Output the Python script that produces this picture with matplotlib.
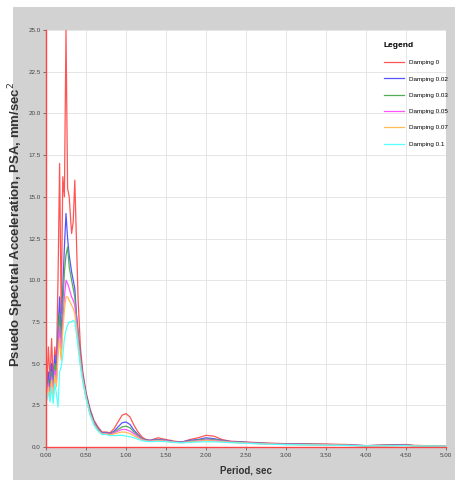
import matplotlib
matplotlib.use("Agg")
import matplotlib.pyplot as plt
from matplotlib.patches import Rectangle

plt.rcParams['font.family'] = ['Liberation Sans', 'DejaVu Sans']

# period axis shared by all curves (sec)
periods = [0.01, 0.03, 0.05, 0.07, 0.09, 0.11, 0.13, 0.15, 0.17, 0.19,
           0.21, 0.23, 0.25, 0.27, 0.29, 0.32, 0.34, 0.36, 0.38, 0.40,
           0.43, 0.46, 0.50, 0.55, 0.60, 0.65, 0.70, 0.75, 0.80, 0.85,
           0.90, 0.95, 1.00, 1.05, 1.10, 1.15, 1.20, 1.25, 1.30, 1.40,
           1.50, 1.60, 1.70, 1.80, 1.90, 2.00, 2.10, 2.20, 2.30, 2.50,
           2.70, 3.00, 3.50, 3.75, 4.00, 4.20, 4.50, 4.60, 5.00]

psa_d0 = [3.5, 6.0, 4.0, 6.5, 3.8, 6.0, 5.0, 10.0, 17.0, 8.0,
          16.2, 15.0, 25.0, 15.5, 15.0, 12.8, 13.5, 16.0, 12.5, 9.0,
          6.0, 4.5, 3.3, 2.3, 1.6, 1.2, 0.9, 0.9, 0.85, 1.1,
          1.5, 1.9, 2.0, 1.8, 1.3, 0.9, 0.6, 0.45, 0.4, 0.55,
          0.45, 0.35, 0.3, 0.45, 0.55, 0.7, 0.65, 0.45, 0.35, 0.3,
          0.25, 0.2, 0.18, 0.15, 0.08, 0.12, 0.15, 0.1, 0.05]
psa_d002 = [3.2, 4.5, 3.5, 5.0, 3.5, 5.5, 4.5, 7.0, 9.0, 6.5,
            9.5, 12.0, 14.0, 12.5, 11.5, 10.5, 10.0, 9.5, 8.0, 7.0,
            5.5, 4.3, 3.2, 2.2, 1.5, 1.1, 0.85, 0.85, 0.8, 0.95,
            1.2, 1.45, 1.5, 1.35, 1.0, 0.75, 0.5, 0.42, 0.4, 0.45,
            0.4, 0.32, 0.3, 0.4, 0.45, 0.55, 0.5, 0.4, 0.33, 0.28,
            0.22, 0.18, 0.15, 0.12, 0.08, 0.1, 0.12, 0.08, 0.05]
psa_d003 = [3.0, 4.0, 3.2, 4.5, 3.0, 5.0, 4.0, 6.5, 8.0, 6.0,
            8.5, 10.5, 11.5, 12.0, 10.8, 10.0, 9.5, 9.0, 7.8, 6.8,
            5.4, 4.2, 3.1, 2.1, 1.45, 1.05, 0.82, 0.82, 0.78, 0.9,
            1.05, 1.2, 1.25, 1.15, 0.9, 0.7, 0.48, 0.4, 0.38, 0.42,
            0.38, 0.3, 0.28, 0.36, 0.42, 0.48, 0.45, 0.38, 0.32, 0.26,
            0.21, 0.17, 0.14, 0.11, 0.08, 0.09, 0.11, 0.08, 0.05]
psa_d005 = [3.0, 3.8, 3.0, 4.2, 3.0, 4.6, 3.8, 6.0, 7.2, 5.5,
            7.5, 9.0, 10.0, 9.8, 9.5, 9.0, 8.8, 8.5, 7.5, 6.5,
            5.2, 4.1, 3.0, 2.0, 1.4, 1.0, 0.8, 0.8, 0.75, 0.85,
            0.95, 1.05, 1.05, 0.95, 0.8, 0.62, 0.45, 0.38, 0.36, 0.4,
            0.36, 0.3, 0.27, 0.33, 0.38, 0.42, 0.4, 0.35, 0.3, 0.25,
            0.2, 0.16, 0.13, 0.1, 0.08, 0.08, 0.1, 0.07, 0.05]
psa_d007 = [2.9, 3.6, 2.9, 4.0, 2.9, 4.3, 3.6, 5.5, 6.5, 5.2,
            7.0, 8.2, 9.0, 9.0, 8.8, 8.5, 8.3, 8.0, 7.2, 6.3,
            5.0, 4.0, 3.0, 2.0, 1.35, 0.98, 0.78, 0.78, 0.72, 0.78,
            0.85, 0.9, 0.88, 0.8, 0.68, 0.55, 0.42, 0.36, 0.34, 0.38,
            0.34, 0.28, 0.26, 0.3, 0.35, 0.38, 0.36, 0.32, 0.28, 0.24,
            0.19, 0.15, 0.12, 0.1, 0.07, 0.07, 0.09, 0.07, 0.05]
psa_d01 = [2.8, 3.3, 2.7, 3.6, 2.6, 3.8, 3.2, 2.4, 4.5, 4.8,
           5.5, 6.5, 7.0, 7.3, 7.5, 7.5, 7.6, 7.5, 6.8, 6.0,
           4.8, 3.9, 2.9, 1.95, 1.3, 0.95, 0.75, 0.75, 0.68, 0.68,
           0.7, 0.7, 0.65, 0.62, 0.55, 0.47, 0.38, 0.34, 0.32, 0.34,
           0.32, 0.27, 0.25, 0.28, 0.3, 0.32, 0.31, 0.29, 0.26, 0.22,
           0.18, 0.14, 0.11, 0.09, 0.07, 0.07, 0.08, 0.06, 0.05]

series = [
    ("Damping 0", psa_d0, "#ff5555"),
    ("Damping 0.02", psa_d002, "#5555ff"),
    ("Damping 0.03", psa_d003, "#55aa55"),
    ("Damping 0.05", psa_d005, "#ff55ff"),
    ("Damping 0.07", psa_d007, "#ffbb55"),
    ("Damping 0.1", psa_d01, "#55ffff"),
]

fig = plt.figure(figsize=(4.6, 4.9), dpi=100)
fig.patch.set_facecolor("white")
# gray chart panel behind the plot
fig.patches.append(Rectangle((13 / 460, 1 - 480 / 490), 442 / 460, 473 / 490,
                             transform=fig.transFigure, facecolor="#d2d2d2",
                             edgecolor="none", zorder=-5))

ax = fig.add_axes([46 / 460, 1 - 447 / 490, 400 / 460, 417 / 490])
ax.set_zorder(1)
ax.set_facecolor("white")

for name, vals, col in series:
    ax.plot(periods, vals, color=col, lw=0.9, label=name)

ax.set_xlim(0, 5)
ax.set_ylim(0, 25)
ax.set_xticks([i * 0.5 for i in range(11)])
ax.set_xticklabels(["%.2f" % (i * 0.5) for i in range(11)])
ax.set_yticks([i * 2.5 for i in range(11)])
ax.set_yticklabels(["%.1f" % (i * 2.5) for i in range(11)])
ax.tick_params(labelsize=4.5, length=2, width=0.5, colors="#444444", pad=2)
ax.grid(True, color="#e2e2e2", lw=0.6)

for s in ["top", "right"]:
    ax.spines[s].set_visible(False)
for s in ["left", "bottom"]:
    ax.spines[s].set_color("#ff4444")
    ax.spines[s].set_linewidth(1.0)

ax.set_xlabel("Period, sec", fontsize=7, fontweight="bold", color="#333333")
ax.xaxis.set_label_coords(0.5, -0.045)
ax.set_ylabel("Psuedo Spectral Acceleration, PSA, mm/sec$^2$", fontsize=9.5,
              fontweight="bold", color="#333333")
ax.yaxis.set_label_coords(-0.05, 0.535)

leg = ax.legend(title="Legend", loc="upper left", frameon=False, fontsize=4.5,
                title_fontsize=6, handlelength=3.2, labelspacing=1.75,
                bbox_to_anchor=(0.83, 0.985))
leg.get_title().set_fontweight("bold")
leg._legend_box.align = "left"

fig.savefig("out.png", dpi=100)
